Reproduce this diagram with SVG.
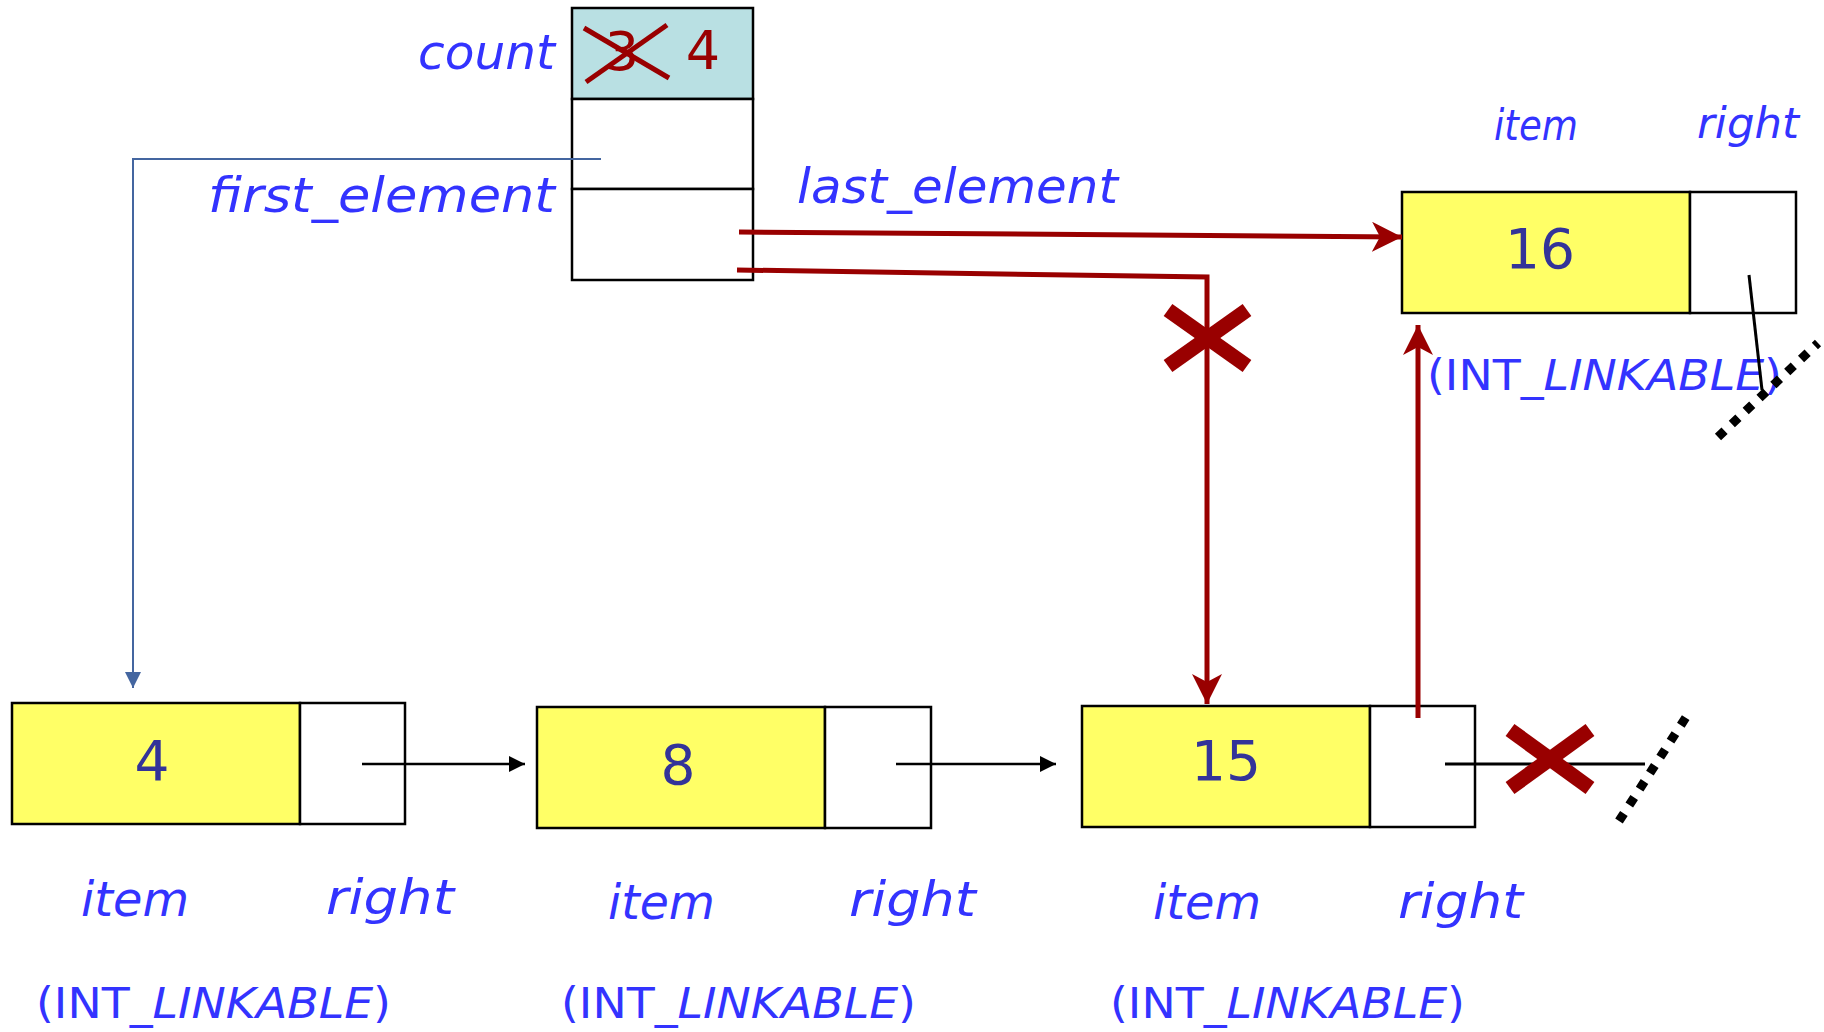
<svg xmlns="http://www.w3.org/2000/svg" width="1824" height="1032" viewBox="0 0 1824 1032">
<style>
.lbl{font-family:"DejaVu Sans",sans-serif;font-style:oblique;fill:#3333FF;}
.cls{font-family:"DejaVu Sans",sans-serif;fill:#3333FF;font-size:42px;}
.dig{font-family:"DejaVu Sans",sans-serif;fill:#333399;font-size:55px;text-anchor:middle;}
.box{stroke:#000;stroke-width:2.5;}
.red{stroke:#990000;stroke-width:5;fill:none;}
.cross{stroke:#990000;stroke-width:15;stroke-linecap:butt;}
.dots{stroke:#000;stroke-width:9;stroke-dasharray:9 10;fill:none;}
</style>
<defs>
<marker id="ar" markerUnits="userSpaceOnUse" markerWidth="32" markerHeight="32" refX="30" refY="15" orient="auto"><path d="M0,0 L30,15 L0,30 L8,15 z" fill="#990000"/></marker>
<marker id="ab" markerUnits="userSpaceOnUse" markerWidth="18" markerHeight="18" refX="16" refY="8" orient="auto"><path d="M0,0 L16,8 L0,16 z" fill="#4466A0"/></marker>
<marker id="ak" markerUnits="userSpaceOnUse" markerWidth="18" markerHeight="18" refX="16" refY="8" orient="auto"><path d="M0,0 L16,8 L0,16 z" fill="#000"/></marker>
</defs>

<g id="list">
<rect class="box" x="572" y="8" width="181" height="91" fill="#B9E0E3"/>
<rect class="box" x="572" y="99" width="181" height="90" fill="#fff"/>
<rect class="box" x="572" y="189" width="181" height="91" fill="#fff"/>
<text x="622" y="70" font-family="DejaVu Sans,sans-serif" font-size="54" fill="#990000" text-anchor="middle">3</text>
<line x1="584" y1="28" x2="669" y2="78" stroke="#990000" stroke-width="5"/>
<line x1="586" y1="82" x2="667" y2="25" stroke="#990000" stroke-width="5"/>
<text x="703" y="69" font-family="DejaVu Sans,sans-serif" font-size="54" fill="#990000" text-anchor="middle">4</text>
<text class="lbl" x="418" y="69" font-size="48" textLength="137" lengthAdjust="spacingAndGlyphs">count</text>
<text class="lbl" x="208" y="212" font-size="48" textLength="347" lengthAdjust="spacingAndGlyphs">first_element</text>
<text class="lbl" x="797" y="203" font-size="48" textLength="321" lengthAdjust="spacingAndGlyphs">last_element</text>
</g>

<g id="node4">
<rect class="box" x="12" y="703" width="288" height="121" fill="#FFFF66"/>
<rect class="box" x="300" y="703" width="105" height="121" fill="#fff"/>
<text class="dig" x="152" y="780">4</text>
<text class="lbl" x="81" y="916" font-size="48" textLength="108" lengthAdjust="spacingAndGlyphs">item</text>
<text class="lbl" x="326" y="914" font-size="48" textLength="128" lengthAdjust="spacingAndGlyphs">right</text>
<text class="cls" x="36" y="1018" textLength="355" lengthAdjust="spacingAndGlyphs">(INT_<tspan font-style="oblique">LINKABLE</tspan>)</text>
</g>

<g id="node8">
<rect class="box" x="537" y="707" width="288" height="121" fill="#FFFF66"/>
<rect class="box" x="825" y="707" width="106" height="121" fill="#fff"/>
<text class="dig" x="678" y="784">8</text>
<text class="lbl" x="608" y="919" font-size="48" textLength="107" lengthAdjust="spacingAndGlyphs">item</text>
<text class="lbl" x="849" y="916" font-size="48" textLength="127" lengthAdjust="spacingAndGlyphs">right</text>
<text class="cls" x="561" y="1018" textLength="355" lengthAdjust="spacingAndGlyphs">(INT_<tspan font-style="oblique">LINKABLE</tspan>)</text>
</g>

<g id="node15">
<rect class="box" x="1082" y="706" width="288" height="121" fill="#FFFF66"/>
<rect class="box" x="1370" y="706" width="105" height="121" fill="#fff"/>
<text class="dig" x="1226" y="780">15</text>
<text class="lbl" x="1153" y="919" font-size="48" textLength="108" lengthAdjust="spacingAndGlyphs">item</text>
<text class="lbl" x="1398" y="918" font-size="48" textLength="125" lengthAdjust="spacingAndGlyphs">right</text>
<text class="cls" x="1110" y="1018" textLength="355" lengthAdjust="spacingAndGlyphs">(INT_<tspan font-style="oblique">LINKABLE</tspan>)</text>
</g>

<g id="node16">
<rect class="box" x="1402" y="192" width="288" height="121" fill="#FFFF66"/>
<rect class="box" x="1690" y="192" width="106" height="121" fill="#fff"/>
<text class="dig" x="1540" y="268">16</text>
<text class="lbl" x="1494" y="140" font-size="42" textLength="84" lengthAdjust="spacingAndGlyphs">item</text>
<text class="lbl" x="1697" y="138" font-size="42" textLength="102" lengthAdjust="spacingAndGlyphs">right</text>
<text class="cls" x="1427" y="390" textLength="355" lengthAdjust="spacingAndGlyphs">(INT_<tspan font-style="oblique">LINKABLE</tspan>)</text>
</g>

<g id="connectors">
<polyline points="601,159 133,159 133,688" fill="none" stroke="#4466A0" stroke-width="2" marker-end="url(#ab)"/>
<line x1="739" y1="232" x2="1402" y2="237" class="red" marker-end="url(#ar)"/>
<polyline points="737,270 1207,277 1207,704" class="red" marker-end="url(#ar)"/>
<line x1="1418" y1="718" x2="1418" y2="325" class="red" marker-end="url(#ar)"/>
<line x1="362" y1="764" x2="525" y2="764" stroke="#000" stroke-width="2.5" marker-end="url(#ak)"/>
<line x1="896" y1="764" x2="1056" y2="764" stroke="#000" stroke-width="2.5" marker-end="url(#ak)"/>
<line x1="1445" y1="764" x2="1645" y2="764" stroke="#000" stroke-width="3"/>
<line x1="1749" y1="275" x2="1762" y2="390" stroke="#000" stroke-width="3"/>
<line x1="1619" y1="821" x2="1690" y2="711" class="dots"/>
<line x1="1718" y1="437" x2="1818" y2="343" class="dots"/>
<line x1="1168" y1="310" x2="1247" y2="366" class="cross"/>
<line x1="1168" y1="366" x2="1247" y2="310" class="cross"/>
<line x1="1510" y1="730" x2="1590" y2="788" class="cross"/>
<line x1="1510" y1="788" x2="1590" y2="730" class="cross"/>
</g>
</svg>
